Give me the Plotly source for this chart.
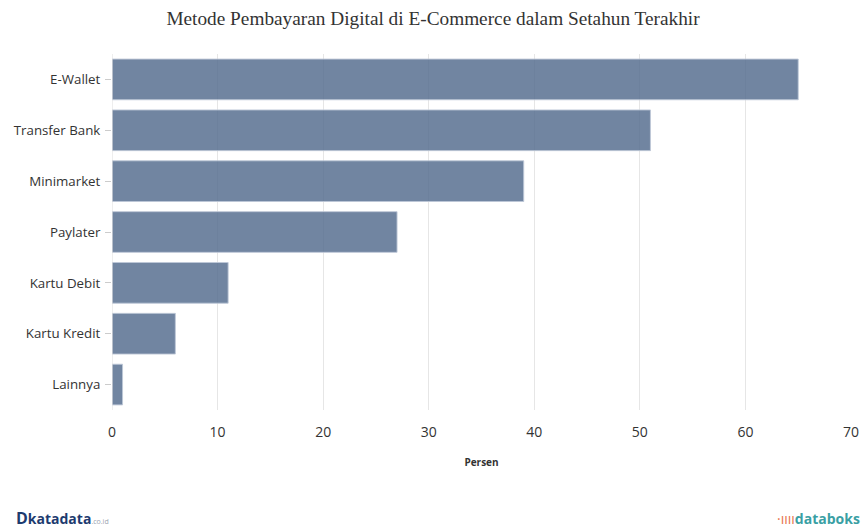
import plotly.graph_objects as go

categories = ["E-Wallet", "Transfer Bank", "Minimarket", "Paylater", "Kartu Debit", "Kartu Kredit", "Lainnya"]
values = [65, 51, 39, 27, 11, 6, 1]
x_ticks = [0, 10, 20, 30, 40, 50, 60, 70]

W, H = 866, 529
L, R, T, B = 112, 15, 54, 119
PW, PH = W - L - R, H - T - B

fig = go.Figure()
fig.add_trace(go.Bar(
    y=categories, x=values, orientation="h",
    marker=dict(color="rgba(82,106,140,0.82)", line=dict(color="rgba(190,200,215,0.9)", width=1)),
    hoverinfo="x+y",
))

fig.update_layout(
    width=W, height=H,
    margin=dict(l=L, r=R, t=T, b=B),
    paper_bgcolor="white", plot_bgcolor="white",
    bargap=0.2,
    showlegend=False,
    title=dict(text="Metode Pembayaran Digital di E-Commerce dalam Setahun Terakhir",
               x=0.5, xanchor="center", y=1 - 18 / H, yanchor="middle",
               font=dict(family="Liberation Serif, Times New Roman, serif", size=19.3, color="#333333")),
    font=dict(family="Open Sans, Noto Sans, sans-serif", color="#333333"),
)

fig.update_xaxes(
    range=[0, 70], tickvals=x_ticks, ticktext=[str(t) for t in x_ticks],
    showgrid=True, gridcolor="#e6e6e6", gridwidth=1,
    zeroline=False, showline=False, ticks="",
    tickfont=dict(size=14, color="#333333"),
    ticklabelstandoff=12,
    title=dict(text="<b>Persen</b>", font=dict(size=10, color="#333333"), standoff=18),
    automargin=False,
    fixedrange=True,
)
fig.update_yaxes(
    categoryorder="array", categoryarray=categories[::-1],
    showgrid=False, zeroline=False,
    showline=False,
    ticks="outside", ticklen=6, tickcolor="#cccccc",
    tickfont=dict(size=13.3, color="#333333"),
    ticklabelstandoff=2,
    automargin=False,
    fixedrange=True,
)

# y axis baseline at x=0
fig.add_shape(type="line", xref="x", yref="paper", x0=0, x1=0, y0=0, y1=1.0,
              line=dict(color="#dddddd", width=1))

# logos
ly = -(518 - (T + PH)) / PH
fig.add_annotation(xref="paper", yref="paper", x=(14 - L) / PW, y=ly,
                   xanchor="left", yanchor="middle", showarrow=False,
                   text="<b><span style='font-size:16px'>D</span></b><b>katadata</b><span style='font-size:7px;color:#9aa3b0'>.co.id</span>",
                   font=dict(family="Open Sans, sans-serif", size=14, color="#1d3b6f"))
fig.add_annotation(xref="paper", yref="paper", x=(862 - L) / PW, y=ly,
                   xanchor="right", yanchor="middle", showarrow=False,
                   text="<span style='color:#e8734a'>\u00b7\u0131\u0131\u0131\u0131</span><b>databoks</b>",
                   font=dict(family="Open Sans, sans-serif", size=14, color="#3a9fa4"))

fig.write_html("out.html")
